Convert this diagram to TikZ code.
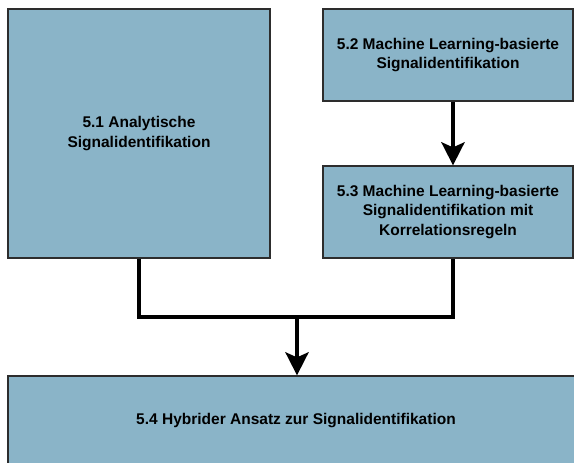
\documentclass[tikz,border=0pt]{standalone}
\usepackage{fontspec}
\setmainfont{Liberation Sans}
\usetikzlibrary{arrows.meta,calc}
\definecolor{boxfill}{RGB}{138,180,200}
\definecolor{boxline}{RGB}{45,45,45}
\tikzset{
  chapter/.style={draw=boxline, line width=1.2bp, fill=boxfill, inner sep=0pt,
    align=center, font=\fontsize{15.5bp}{19.5bp}\selectfont\bfseries},
  flow/.style={line width=4.5bp, line join=miter, draw=black},
  flowtip/.style={-{Stealth[length=23bp, width=23bp, inset=5bp]}}
}
\begin{document}
\begin{tikzpicture}[x=1bp,y=-1bp]
  \useasboundingbox (0,0) rectangle (574,463);
  \clip (0,0) rectangle (574,463);
  \fill[white] (0,0) rectangle (574,463);

  % chapter boxes
  \node[chapter, minimum width=262bp, minimum height=249bp] (b51) at (139,133.5)
    {5.1 Analytische\\Signalidentifikation};
  \node[chapter, minimum width=250bp, minimum height=92bp] (b52) at (448,55)
    {5.2 Machine Learning-basierte\\Signalidentifikation};
  \node[chapter, minimum width=250bp, minimum height=92bp] (b53) at (448,212)
    {5.3 Machine Learning-basierte\\Signalidentifikation mit\\Korrelationsregeln};
  \node[chapter, minimum width=576bp, minimum height=90bp] (b54) at (296,421)
    {5.4 Hybrider Ansatz zur Signalidentifikation};

  % junction of the two lower branches
  \coordinate (join) at (297,317);

  % connectors
  \draw[flow, flowtip] ([xshift=5bp]b52.south) -- ([xshift=5bp]b53.north);
  \draw[flow] (b51.south) |- (join) -| ([xshift=5bp]b53.south);
  \draw[flow, flowtip] (join) -- (join |- b54.north);
\end{tikzpicture}
\end{document}
